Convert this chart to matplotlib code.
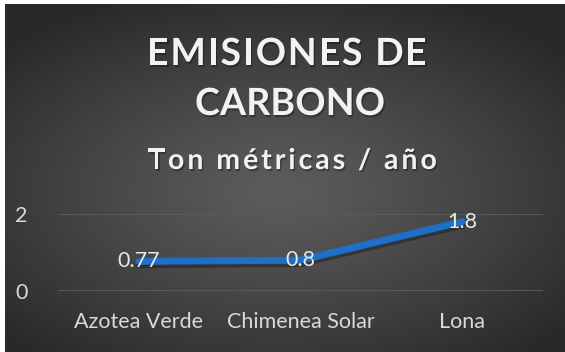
import numpy as np
import matplotlib
matplotlib.use("Agg")
from matplotlib import pyplot as plt
import matplotlib.patheffects as pe

# ============================================================================
# Chart data
# ============================================================================
categories = ["Azotea Verde", "Chimenea Solar", "Lona"]
emissions = [0.77, 0.8, 1.8]
yTicks = [0, 2]
titleLines = ["EMISIONES DE", "CARBONO"]
subTitle = "Ton métricas / año"

# ============================================================================
# Figure setup (pixel based layout, 565x352 @ 100 dpi)
# ============================================================================
W, H = 565, 352
plt.rcParams['font.family'] = ['Lato', 'DejaVu Sans']
fig = plt.figure(figsize=(W / 100, H / 100), dpi=100, facecolor="white")

def fx(px):
    return px / W

def fy(py):
    return 1 - py / H

# background with a soft radial gradient (lighter in the middle)
bgAx = fig.add_axes([fx(5), 0, fx(W - 5), 1 - 4 / H])
gx, gy = np.meshgrid(np.linspace(-1, 1, 400), np.linspace(-1, 1, 250))
gx = gx + 0.02
gy = gy - 0.08
dist = np.clip(np.sqrt(gx ** 2 + (gy * 1.1) ** 2) / 1.35, 0, 1)
shade = 0.36 - 0.20 * dist ** 1.2
bgAx.imshow(np.dstack([shade, shade, shade]), aspect="auto", extent=[0, 1, 0, 1],
            interpolation="bilinear")
bgAx.set_axis_off()

# ============================================================================
# Plot area
# ============================================================================
ax = fig.add_axes([fx(58), fy(291), fx(543 - 58), (291 - 214) / H])
ax.set_facecolor("none")
xs = np.arange(len(categories))
ax.plot(xs, emissions, color="#1E6FC8", linewidth=5, solid_capstyle="round",
        solid_joinstyle="round", clip_on=False,
        path_effects=[pe.SimpleLineShadow(offset=(0, -2.5), alpha=0.3, shadow_color="black"),
                      pe.Normal()])
ax.set_xlim(-0.5, len(categories) - 0.5)
ax.set_ylim(yTicks[0], yTicks[-1])
ax.set_yticks(yTicks)
ax.set_xticks(xs)
ax.set_xticklabels(categories)
ax.grid(axis="y", color="#5E5E5E", linewidth=1.2)
ax.set_axisbelow(True)
for s in ax.spines.values():
    s.set_visible(False)
ax.tick_params(length=0, colors="#D9D9D9", labelsize=15.5)
ax.tick_params(axis="y", pad=22)
ax.tick_params(axis="x", pad=15)

# data labels centered on the points
for x, v in zip(xs, emissions):
    ax.text(x, v, f"{v:g}", ha="center", va="center", color="#E8E8E8", fontsize=15.5,
            clip_on=False)

# ============================================================================
# Titles with wide letter spacing (drawn char by char, fitted to a width)
# ============================================================================
renderer = fig.canvas.get_renderer()

def charWidth(ch, size):
    if ch == " ":
        a = fig.text(0, 0, "x x", fontsize=size, fontweight="bold")
        b = fig.text(0, 0, "xx", fontsize=size, fontweight="bold")
        w = a.get_window_extent(renderer).width - b.get_window_extent(renderer).width
        a.remove()
        b.remove()
        return w
    t = fig.text(0, 0, ch, fontsize=size, fontweight="bold")
    w = t.get_window_extent(renderer).width
    t.remove()
    return w

def spacedText(s, xLeft, xRight, yBase, size, color):
    widths = [charWidth(ch, size) for ch in s]
    spacing = (xRight - xLeft - sum(widths)) / (len(s) - 1)
    x = xLeft
    for ch, w in zip(s, widths):
        if ch != " ":
            fig.text(fx(x), fy(yBase), ch, fontsize=size, fontweight="bold", color=color,
                     ha="left", va="baseline",
                     path_effects=[pe.withSimplePatchShadow(offset=(1, -1.5), alpha=0.3,
                                                            shadow_rgbFace="black")])
        x += w + spacing

spacedText(titleLines[0], 147, 427, 65, 27, "#F2F2F2")
spacedText(titleLines[1], 195, 385, 115, 27, "#F2F2F2")
spacedText(subTitle, 148, 437, 169, 20.5, "#F2F2F2")

fig.savefig("out.png", dpi=100, facecolor=fig.get_facecolor())
